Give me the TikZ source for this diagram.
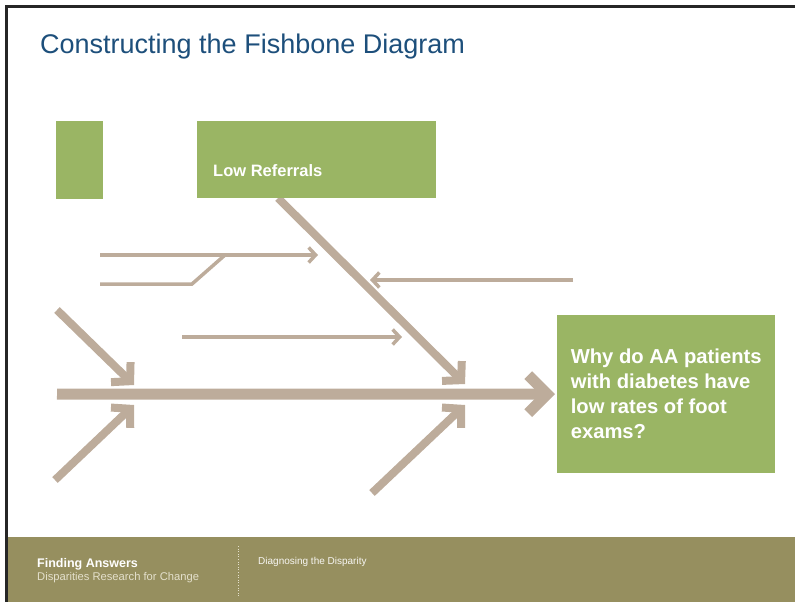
\documentclass[tikz,border=0pt]{standalone}
\usepackage{fontspec}
\setmainfont{Liberation Sans}
\usepackage{tikz}
\usetikzlibrary{arrows.meta}

\definecolor{bonegray}{HTML}{BDAC9B}
\definecolor{leafgreen}{HTML}{9AB564}
\definecolor{footerolive}{HTML}{968F5F}
\definecolor{footertext}{HTML}{E4E0CC}
\definecolor{titleblue}{HTML}{1D4F7B}

\begin{document}
\begin{tikzpicture}[x=1pt,y=-1pt,
	greenbox/.style={fill=leafgreen, draw=none, inner sep=0pt},
	bone/.style={draw=bonegray, line width=8pt, -{Straight Barb[length=13pt,width=28pt]}},
	spine/.style={draw=bonegray, line width=11pt, -{Straight Barb[length=19pt,width=38pt]}},
	twig/.style={draw=bonegray, line width=3.5pt, -{Straight Barb[length=7pt,width=15pt]}}]

	\useasboundingbox (0,0) rectangle (795,602);

	% footer band and frame
	\fill[footerolive] (8,537) rectangle (795,602);
	\draw[black!85, line width=3pt] (6.5,602) -- (6.5,6.5) -- (795,6.5);

	\node[anchor=base west, inner sep=0pt, text=titleblue, font=\fontsize{27}{30}\selectfont] (title) at (40,54) {Constructing the Fishbone Diagram};

	% bone ends
	\coordinate (ul) at (57,310);
	\coordinate (ultip) at (134,385);
	\coordinate (ll) at (55,480);
	\coordinate (lltip) at (134,405);
	\coordinate (refstart) at (278,198);
	\coordinate (reftip) at (465,384);
	\coordinate (lr) at (372,493);
	\coordinate (lrtip) at (465,405);
	\coordinate (tail) at (57,394);

	% twig ends
	\coordinate (a0) at (100,255);
	\coordinate (a1) at (318,255);
	\coordinate (ajoin) at (225,255);
	\coordinate (b0) at (100,284);
	\coordinate (b1) at (192,284);
	\coordinate (c0) at (573,280);
	\coordinate (c1) at (370,280);
	\coordinate (d0) at (182,337);
	\coordinate (d1) at (402,337);

	\node[greenbox, anchor=north west, minimum width=218pt, minimum height=158pt, align=left, text=white, font=\bfseries\fontsize{20.2}{25}\selectfont] (effect) at (557,315) {Why do AA patients\\with diabetes have\\low rates of foot\\exams?};

	\draw[spine] (tail) -- ([xshift=-2pt]effect.west);
	\draw[bone] (ul) -- (ultip);
	\draw[bone] (ll) -- (lltip);
	\draw[bone] (refstart) -- (reftip);
	\draw[bone] (lr) -- (lrtip);

	\draw[twig] (a0) -- (a1);
	\draw[twig, -] (b0) -- (b1) -- (ajoin);
	\draw[twig] (c0) -- (c1);
	\draw[twig] (d0) -- (d1);
%	\draw[twig] (d0) -- (d1 -| refstart);

	\node[greenbox, anchor=north west, minimum width=47pt, minimum height=78pt] (blank) at (56,121) {};
	\node[greenbox, anchor=north west, minimum width=239pt, minimum height=77pt] (referrals) at (197,121) {};
	\node[anchor=base west, inner sep=0pt, text=white, font=\bfseries\fontsize{16.5}{20}\selectfont] (reflabel) at (213,176) {Low Referrals};

	% footer text
	\node[anchor=base west, inner sep=0pt, text=white, font=\bfseries\fontsize{12.5}{14}\selectfont] (org) at (37,567) {Finding Answers};
	\node[anchor=base west, inner sep=0pt, text=footertext, font=\fontsize{11.2}{13}\selectfont] (orgsub) at (37,580) {Disparities Research for Change};
	\draw[footertext, dotted, line width=0.6pt] (238,546) -- (238,597);
	\node[anchor=base west, inner sep=0pt, text=white!92!footerolive, font=\fontsize{10}{12}\selectfont] (topic) at (258,564) {Diagnosing the Disparity};

	\end{tikzpicture}
\end{document}
